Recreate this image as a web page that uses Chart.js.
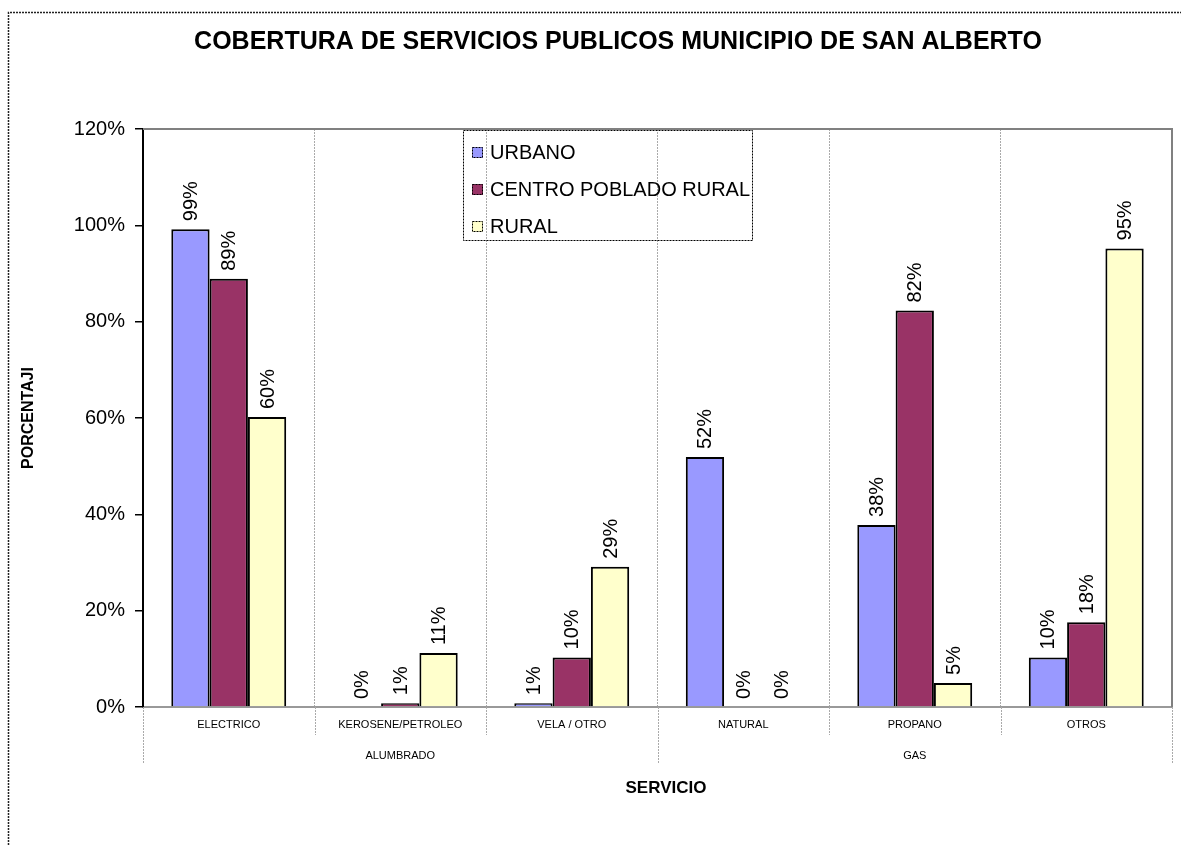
<!DOCTYPE html>
<html>
<head>
<meta charset="utf-8">
<script src="https://cdn.jsdelivr.net/npm/chart.js@4/dist/chart.umd.min.js"></script>
<style>
  html, body { margin: 0; padding: 0; background: #fff; }
  canvas { display: block; }
</style>
</head>
<body>
<canvas id="chart" width="1181" height="845"></canvas>
<script>
// data (percent)
const categories = ['ELECTRICO', 'KEROSENE/PETROLEO', 'VELA / OTRO', 'NATURAL', 'PROPANO', 'OTROS'];
const groups = [
    { label: 'ALUMBRADO', from: 0, to: 2 },
    { label: 'GAS', from: 3, to: 5 }
];
const urbano = [99.2, 0, 0.8, 51.9, 37.8, 10.3];
const centroPoblado = [88.9, 0.8, 10.3, 0, 82.3, 17.6];
const rural = [60.2, 11.2, 29.1, 0, 5.0, 95.2];
const yTicks = [0, 20, 40, 60, 80, 100, 120];

const FONT = "'Liberation Sans', Arial, sans-serif";

// outer frame, title, plot border, axis titles, legend
const decorPlugin = {
    id: 'decor',
    beforeDraw(chart) {
        const ctx = chart.ctx;
        ctx.save();
        ctx.fillStyle = '#fff';
        ctx.fillRect(0, 0, chart.width, chart.height);
        ctx.strokeStyle = '#222';
        ctx.lineWidth = 1.5;
        ctx.setLineDash([2, 1]);
        ctx.beginPath();
        ctx.moveTo(8.5, chart.height);
        ctx.lineTo(8.5, 12.5);
        ctx.lineTo(chart.width, 12.5);
        ctx.stroke();
        ctx.restore();
    },
    afterDraw(chart) {
        const ctx = chart.ctx;
        const area = chart.chartArea;
        ctx.save();

        // plot border top / right
        ctx.strokeStyle = '#808080';
        ctx.lineWidth = 2;
        ctx.beginPath();
        ctx.moveTo(area.left, area.top);
        ctx.lineTo(area.right, area.top);
        ctx.lineTo(area.right, area.bottom);
        ctx.stroke();

        // title
        ctx.fillStyle = '#000';
        ctx.font = 'bold 25px ' + FONT;
        ctx.textAlign = 'center';
        ctx.textBaseline = 'middle';
        ctx.fillText('COBERTURA DE SERVICIOS PUBLICOS MUNICIPIO DE SAN ALBERTO', 618, 42);

        // axis titles
        ctx.font = 'bold 17px ' + FONT;
        ctx.fillText('SERVICIO', 666, 788);
        ctx.save();
        ctx.translate(29, (area.top + area.bottom) / 2);
        ctx.rotate(-Math.PI / 2);
        ctx.font = 'bold 16px ' + FONT;
        ctx.fillText('PORCENTAJI', 0, 0);
        ctx.restore();

        // category + group labels with separators
        const step = (area.right - area.left) / categories.length;
        ctx.strokeStyle = '#aaa';
        ctx.lineWidth = 1;
        ctx.setLineDash([2, 1]);
        for (let i = 0; i <= categories.length; i++) {
            const x = Math.round(area.left + i * step) + 0.5;
            const long = groups.some(g => g.from === i) || i === categories.length;
            ctx.beginPath();
            ctx.moveTo(x, area.bottom);
            ctx.lineTo(x, long ? 764 : 735);
            ctx.stroke();
        }
        ctx.setLineDash([]);
        ctx.font = '11px ' + FONT;
        ctx.fillStyle = '#000';
        const xs = chart.scales.x;
        categories.forEach((c, i) => {
            ctx.fillText(c, xs.getPixelForValue(i), 725);
        });
        groups.forEach(g => {
            const cx = (xs.getPixelForValue(g.from) + xs.getPixelForValue(g.to)) / 2;
            ctx.fillText(g.label, cx, 756);
        });

        // legend box
        ctx.strokeStyle = '#000';
        ctx.lineWidth = 1;
        ctx.setLineDash([2, 1]);
        ctx.strokeRect(463.5, 130.5, 289, 110);
        ctx.font = '20px ' + FONT;
        ctx.textAlign = 'left';
        const rows = [152, 189, 226];
        chart.data.datasets.forEach((ds, i) => {
            const y = rows[i];
            ctx.setLineDash([]);
            ctx.fillStyle = ds.backgroundColor;
            ctx.fillRect(472, y - 5, 11, 11);
            ctx.setLineDash([2, 1]);
            ctx.strokeStyle = '#000';
            ctx.strokeRect(472.5, y - 4.5, 10, 10);
            ctx.fillStyle = '#000';
            ctx.fillText(ds.label, 490, y + 1);
        });
        ctx.restore();
    }
};

// rotated value labels above each bar
const valueLabels = {
    id: 'valueLabels',
    afterDatasetsDraw(chart) {
        const ctx = chart.ctx;
        ctx.save();
        ctx.fillStyle = '#000';
        ctx.font = '20px ' + FONT;
        ctx.textAlign = 'left';
        ctx.textBaseline = 'middle';
        chart.data.datasets.forEach((ds, di) => {
            chart.getDatasetMeta(di).data.forEach((bar, i) => {
                ctx.save();
                ctx.translate(bar.x, bar.y - 8);
                ctx.rotate(-Math.PI / 2);
                ctx.fillText(Math.round(ds.data[i]) + '%', 0, 1);
                ctx.restore();
            });
        });
        ctx.restore();
    }
};

new Chart(document.getElementById('chart'), {
    type: 'bar',
    data: {
        labels: categories,
        datasets: [
            { label: 'URBANO', data: urbano, backgroundColor: '#9999FF' },
            { label: 'CENTRO POBLADO RURAL', data: centroPoblado, backgroundColor: '#993366' },
            { label: 'RURAL', data: rural, backgroundColor: '#FFFFCC' }
        ]
    },
    options: {
        responsive: false,
        devicePixelRatio: 1,
        animation: false,
        layout: { padding: { left: 0, top: 129, right: 9, bottom: 138 } },
        datasets: {
            bar: {
                borderColor: '#000',
                borderWidth: 2,
                categoryPercentage: 0.67,
                barPercentage: 1
            }
        },
        plugins: {
            legend: { display: false },
            title: { display: false },
            tooltip: { enabled: false }
        },
        scales: {
            x: {
                ticks: { display: false },
                grid: {
                    offset: true,
                    color: '#aaa',
                    drawTicks: false
                },
                border: { display: true, color: '#999', dash: [2, 1], width: 2 },
                afterFit(scale) { scale.height = 0; }
            },
            y: {
                min: 0,
                max: 120,
                afterBuildTicks(scale) { scale.ticks = yTicks.map(v => ({ value: v })); },
                ticks: {
                    color: '#000',
                    font: { family: FONT, size: 20 },
                    padding: 10,
                    callback: v => v + '%'
                },
                grid: { drawOnChartArea: false, color: '#000', tickLength: 8, lineWidth: 1.5 },
                border: { color: '#000', width: 2 },
                afterFit(scale) { scale.width = 143; }
            }
        }
    },
    plugins: [decorPlugin, valueLabels]
});
</script>
</body>
</html>
